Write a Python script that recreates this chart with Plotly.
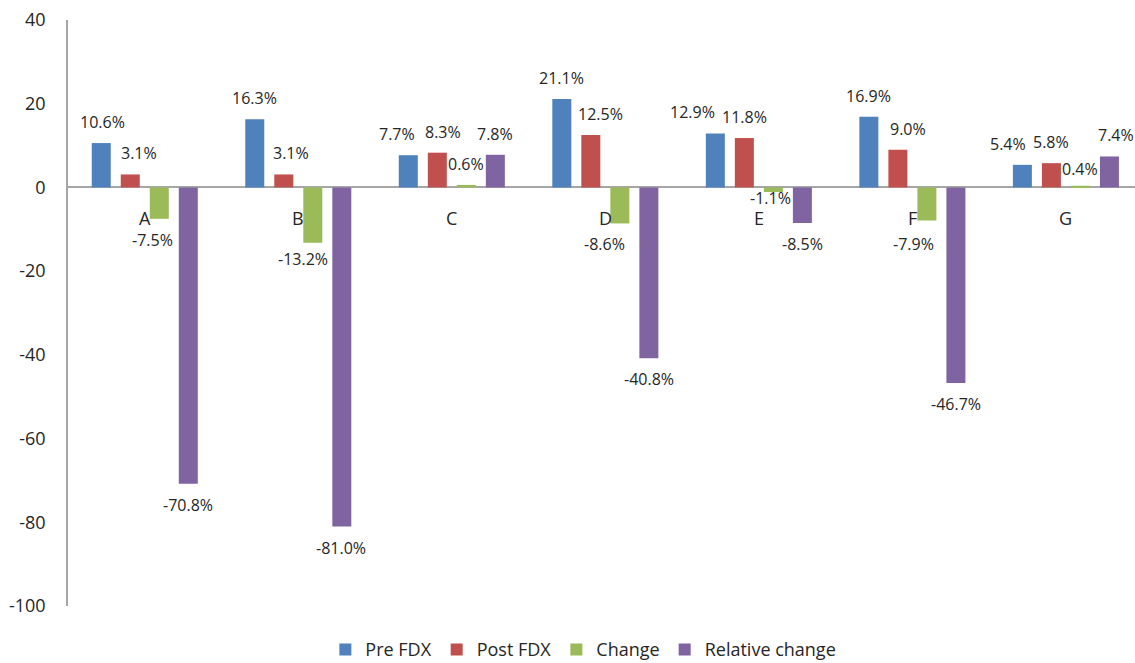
import plotly.graph_objects as go

categories = ["A", "B", "C", "D", "E", "F", "G"]
pre_fdx = [10.6, 16.3, 7.7, 21.1, 12.9, 16.9, 5.4]
post_fdx = [3.1, 3.1, 8.3, 12.5, 11.8, 9.0, 5.8]
change = [-7.5, -13.2, 0.6, -8.6, -1.1, -7.9, 0.4]
relative_change = [-70.8, -81.0, 7.8, -40.8, -8.5, -46.7, 7.4]
y_ticks = [-100, -80, -60, -40, -20, 0, 20, 40]
y_tick_text = ["-100", "-80", "-60", "-40", "-20", "0", "20", "40"]

# label nudges (pixels) mimicking the original's hand-placed data labels
label_dx = {
    "Pre FDX": [1, 0, -11, 0, -23, 0, -14],
    "Post FDX": [9, 7, 6, 10, 0, 10, 0],
    "Change": [-7, -10, 0, -15, -3, -13, 0],
    "Relative change": [0, -1, 0, 0, 0, 0, 7],
}
label_dy = {
    "Pre FDX": [0, 0, 0, 0, 0, 0, 0],
    "Post FDX": [0, 0, 0, 0, 0, 0, 0],
    "Change": [0, 5, 0, 0, 15, -2, -4],
    "Relative change": [0, -1, 0, 0, 0, 0, 0],
}

series = [
    ("Pre FDX", pre_fdx, "#4F81BD"),
    ("Post FDX", post_fdx, "#C0504D"),
    ("Change", change, "#9BBB59"),
    ("Relative change", relative_change, "#8064A2"),
]

FONT = "Open Sans, Liberation Sans, sans-serif"
TEXT_COLOR = "#262626"
BARGAP = 0.244
BARGROUPGAP = 0.345
n_series = len(series)
slot = (1 - BARGAP) / n_series

fig = go.Figure()
for si, (name, vals, color) in enumerate(series):
    fig.add_trace(go.Bar(
        name=name, x=categories, y=vals,
        marker=dict(color=color, line=dict(width=0)),
        hoverinfo="x+y+name",
    ))
    off = (si - (n_series - 1) / 2) * slot
    for ci, v in enumerate(vals):
        base_shift = 21 if v >= 0 else -21
        fig.add_annotation(
            x=ci + off, y=v, xref="x", yref="y",
            text=f"{v:.1f}%", showarrow=False,
            yanchor="middle", yshift=base_shift + label_dy[name][ci],
            xshift=label_dx[name][ci],
            font=dict(family=FONT, size=16, color=TEXT_COLOR),
        )

for ci, c in enumerate(categories):
    fig.add_annotation(x=ci, y=0, xref="x", yref="y", text=c, showarrow=False,
                       yanchor="middle", yshift=-31,
                       font=dict(family=FONT, size=18, color=TEXT_COLOR))

fig.update_layout(
    template="none",
    barmode="group",
    bargap=BARGAP,
    bargroupgap=BARGROUPGAP,
    width=1135, height=663,
    margin=dict(l=68, r=0, t=20, b=57),
    paper_bgcolor="white", plot_bgcolor="white",
    showlegend=True,
    legend=dict(orientation="h", x=0.483, xanchor="center",
                yref="container", y=0.02, yanchor="middle",
                font=dict(family=FONT, size=18, color=TEXT_COLOR),
                itemwidth=30, traceorder="normal", bgcolor="rgba(0,0,0,0)"),
    xaxis=dict(range=[-0.5, 6.45], showticklabels=False, showgrid=False,
               zeroline=False, showline=False, ticks="", automargin=False),
    yaxis=dict(range=[-100, 40], tickvals=y_ticks, ticktext=y_tick_text, showgrid=False,
               zeroline=True, zerolinecolor="#A6A6A6", zerolinewidth=1.5,
               showline=True, linecolor="#A6A6A6", linewidth=1.5, ticks="",
               ticklabelstandoff=17, automargin=False,
               tickfont=dict(family=FONT, size=18, color=TEXT_COLOR)),
)

fig.write_html("out.html", config={"displayModeBar": False},
               post_script="document.body.style.margin='0';")
